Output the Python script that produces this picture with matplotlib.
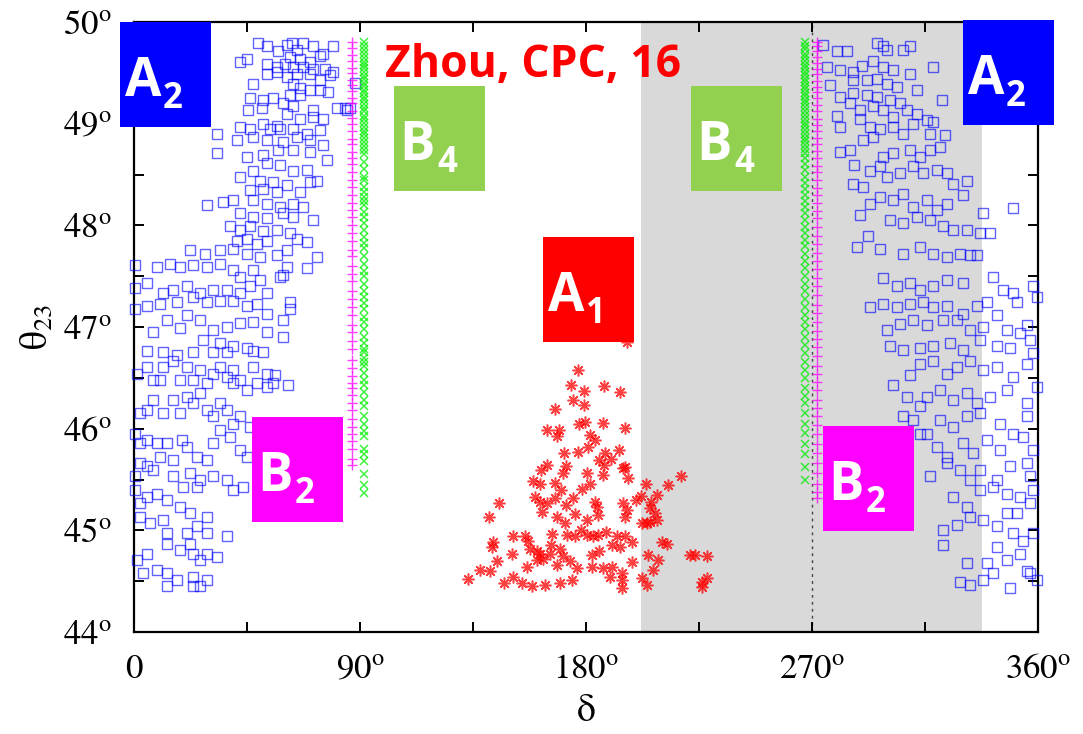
import matplotlib
matplotlib.use("Agg")
import matplotlib.pyplot as plt
from matplotlib.patches import Rectangle

# ---------------- data (delta in degrees, theta23 in degrees) ----------------
a2_left_delta = [
    49.5, 52.8, 57.5, 60.8, 62.8, 64.8, 67.4, 71.4, 75.4, 79.4,
    62.1, 66.1, 70.1, 74.1, 42.2, 44.9, 52.8, 56.8, 60.1, 63.5,
    67.4, 71.4, 76.1, 79.4, 52.8, 56.8, 60.8, 64.8, 70.1, 74.1,
    78.1, 47.5, 63.5, 66.1, 70.1, 74.1, 77.4, 62.1, 66.1, 46.2,
    51.5, 55.5, 59.5, 63.5, 71.4, 75.4, 80.7, 84.7, 45.5, 50.8,
    60.8, 66.1, 71.4, 42.2, 46.2, 51.5, 56.8, 54.2, 58.1, 63.5,
    68.8, 74.1, 33.0, 40.9, 47.5, 52.8, 59.5, 64.8, 70.1, 75.4,
    33.0, 44.9, 51.5, 57.5, 63.5, 70.1, 76.7, 52.8, 58.1, 63.5,
    68.8, 42.2, 47.5, 50.2, 55.5, 60.8, 70.1, 72.7, 46.2, 51.5,
    56.8, 66.1, 29.0, 35.6, 39.6, 47.5, 52.8, 58.1, 63.5, 67.4,
    42.2, 47.5, 52.8, 59.5, 63.5, 71.4, 38.2, 42.2, 46.2, 51.5,
    56.8, 62.1, 40.9, 44.9, 48.9, 52.8, 64.8, 68.8, 22.3, 28.3,
    34.2, 39.6, 44.9, 50.2, 56.8, 60.8, 72.7, 68.8, 60.8, 58.1,
    0.5, 9.0, 14.3, 18.3, 23.6, 29.0, 34.2, 39.6, 42.2, 47.5,
    50.2, 59.5, 0.5, 5.0, 11.7, 15.7, 21.0, 26.3, 31.6, 36.9,
    42.2, 46.2, 52.8, 62.1, 0.5, 5.0, 10.4, 17.0, 23.6, 29.0,
    34.2, 39.6, 44.9, 48.9, 62.1, 7.7, 13.0, 18.3, 21.0, 26.3,
    31.6, 36.9, 42.2, 47.5, 52.8, 59.5, 52.8, 59.5, 27.6, 34.2,
    39.6, 44.9, 5.0, 11.7, 17.0, 23.6, 31.6, 36.9, 47.5, 51.5,
    84.0, 86.0, 88.0,
    1.1, 5.0, 7.7, 10.4, 11.7, 15.7, 18.3, 21.0, 23.6, 26.3,
    29.0, 31.6, 34.2, 36.9, 39.6, 39.6, 42.2, 44.9, 47.5, 48.9,
    52.8, 56.2, 52.8, 55.5, 61.5, 2.4, 5.0, 7.7, 11.7, 15.7,
    18.3, 21.0, 23.6, 26.3, 29.0, 31.6, 34.2, 36.9, 39.6, 42.2,
    46.2, 0.5, 2.4, 5.0, 9.0, 13.0, 15.7, 19.0, 21.0, 25.0,
    29.0, 31.6, 34.2, 38.2, 42.2, 44.9, 0.5, 2.4, 5.0, 7.7,
    10.4, 15.7, 19.6, 22.3, 25.0, 26.3, 31.6, 36.9, 39.6, 43.5,
    0.5, 2.4, 5.0, 9.0, 13.0, 18.3, 22.3, 29.0, 11.7, 6.4,
    2.4, 36.9, 13.0, 21.0, 25.0, 29.0, 5.0, 13.0, 18.3, 22.3,
    23.6, 26.3, 29.0, 32.9, 1.1, 3.7, 9.0, 13.0, 17.0, 23.6,
    29.0, 13.0, 23.6, 26.3,
]
a2_left_theta = [
    49.79, 49.76, 49.71, 49.77, 49.79, 49.72, 49.79, 49.76, 49.69, 49.76,
    49.66, 49.64, 49.61, 49.67, 49.61, 49.64, 49.59, 49.56, 49.59, 49.56,
    49.56, 49.54, 49.54, 49.51, 49.49, 49.51, 49.46, 49.49, 49.49, 49.43,
    49.48, 49.39, 49.39, 49.35, 49.33, 49.33, 49.31, 49.28, 49.28, 49.25,
    49.23, 49.25, 49.20, 49.17, 49.13, 49.05, 49.15, 49.13, 49.13, 49.15,
    49.10, 49.05, 49.07, 48.97, 48.95, 49.00, 48.98, 48.95, 48.95, 48.95,
    48.90, 48.94, 48.90, 48.84, 48.87, 48.84, 48.82, 48.87, 48.84, 48.79,
    48.71, 48.67, 48.69, 48.74, 48.74, 48.72, 48.64, 48.61, 48.59, 48.53,
    48.54, 48.48, 48.53, 48.44, 48.43, 48.40, 48.43, 48.44, 48.35, 48.36,
    48.33, 48.33, 48.20, 48.23, 48.25, 48.25, 48.21, 48.18, 48.21, 48.18,
    48.12, 48.08, 48.07, 48.12, 48.08, 48.05, 47.99, 47.95, 47.99, 47.94,
    47.95, 47.92, 47.85, 47.87, 47.82, 47.85, 47.87, 47.84, 47.76, 47.72,
    47.76, 47.77, 47.72, 47.69, 47.71, 47.76, 47.69, 47.58, 47.59, 47.49,
    47.61, 47.59, 47.62, 47.59, 47.61, 47.59, 47.62, 47.56, 47.49, 47.56,
    47.46, 47.51, 47.38, 47.43, 47.33, 47.36, 47.40, 47.33, 47.36, 47.36,
    47.33, 47.40, 47.33, 47.25, 47.18, 47.21, 47.23, 47.25, 47.30, 47.25,
    47.26, 47.26, 47.21, 47.23, 47.18, 46.95, 47.07, 46.99, 47.12, 47.07,
    46.97, 47.00, 47.04, 47.05, 47.13, 47.07, 46.95, 46.90, 46.87, 46.84,
    46.81, 46.79, 46.76, 46.75, 46.72, 46.75, 46.75, 46.75, 46.76, 46.75,
    49.15, 49.15, 49.40,
    46.54, 46.61, 46.48, 46.48, 46.61, 46.67, 46.48, 46.61, 46.48, 46.58,
    46.45, 46.54, 46.61, 46.51, 46.58, 46.45, 46.48, 46.38, 46.61, 46.45,
    46.54, 46.53, 46.41, 46.45, 46.43, 46.15, 46.18, 46.28, 46.15, 46.28,
    46.15, 46.31, 46.25, 46.35, 46.18, 46.12, 46.25, 46.18, 46.05, 46.12,
    46.02, 45.95, 45.86, 45.89, 45.86, 45.86, 45.69, 45.89, 45.82, 45.72,
    45.69, 45.86, 45.99, 45.92, 45.79, 45.72, 45.53, 45.66, 45.63, 45.59,
    45.72, 45.53, 45.43, 45.56, 45.43, 45.50, 45.53, 45.50, 45.40, 45.43,
    45.40, 45.27, 45.33, 45.36, 45.30, 45.23, 45.17, 45.13, 45.10, 45.07,
    45.13, 44.94, 44.97, 44.97, 45.04, 44.97, 44.77, 44.87, 44.81, 44.87,
    44.77, 44.71, 44.77, 44.74, 44.71, 44.58, 44.61, 44.58, 44.51, 44.54,
    44.51, 44.45, 44.45, 44.45,
]

a2_right_delta = [
    274.5, 279.8, 283.8, 295.8, 298.4, 299.7, 306.4, 309.0, 318.3, 275.8,
    281.2, 286.5, 289.8, 294.4, 298.4, 302.4, 309.0, 286.5, 291.8, 295.8,
    299.7, 303.7, 277.2, 281.2, 286.5, 291.8, 295.8, 301.1, 305.1, 311.7,
    321.7, 279.8, 285.2, 289.1, 294.4, 298.4, 302.4, 307.7, 311.7, 315.7,
    318.3, 281.2, 289.1, 293.1, 297.1, 302.4, 306.4, 310.4, 317.0, 323.0,
    281.2, 285.2, 290.5, 294.4, 298.4, 302.4, 309.0, 313.0, 317.0, 321.0,
    286.9, 293.1, 297.1, 299.7, 305.1, 310.4, 314.4, 319.7, 323.6, 326.3,
    331.6, 286.5, 290.5, 297.1, 302.4, 306.4, 310.4, 315.7, 319.7, 323.6,
    330.3, 338.2, 350.2, 289.1, 293.1, 301.1, 306.4, 311.7, 317.0, 322.3,
    326.3, 331.6, 336.9, 340.9, 292.4, 287.8, 297.1, 306.4, 313.0, 318.3,
    323.6, 328.9, 332.9, 335.6, 298.4, 303.7, 309.0, 313.0, 318.3, 323.6,
    330.3, 342.2, 346.2, 350.2, 358.1, 293.1, 298.4, 303.7, 309.0, 314.4,
    318.3, 323.6, 330.3, 335.6, 339.6, 351.5, 359.5, 299.7, 305.1, 310.4,
    315.7, 322.3, 327.6, 332.9, 338.2, 343.6, 347.5, 352.8, 355.5, 301.1,
    306.4, 313.0, 318.3, 325.0, 330.3, 336.9, 343.6, 348.9, 356.8, 358.1,
    302.4, 309.0, 313.0, 318.3, 323.6, 327.6, 332.9, 338.2, 343.6, 350.2,
    355.5, 307.7, 313.0, 315.7, 321.0, 326.3, 331.6, 335.6, 340.9, 347.5,
    355.5, 359.5, 306.4, 310.4, 315.7, 321.0, 326.3, 331.6, 336.9, 344.9,
    350.2, 355.5, 313.0, 319.7, 323.6, 330.3, 334.3, 339.6, 344.9, 354.2,
    358.1, 317.0, 323.6, 328.9, 332.9, 336.9, 343.6, 348.9, 355.5, 356.8,
    326.3, 331.6, 336.9, 342.2, 347.5, 352.8, 358.1, 322.3, 327.6, 332.9,
    338.2, 343.6, 347.5, 351.5, 356.8, 358.1, 322.3, 343.6, 350.2, 354.2,
    331.6, 339.6, 342.2, 347.5, 352.8, 356.8, 328.9, 332.9, 338.2, 348.9,
    355.5, 359.5,
]
a2_right_theta = [
    49.77, 49.71, 49.71, 49.79, 49.76, 49.72, 49.72, 49.76, 49.56, 49.56,
    49.53, 49.51, 49.57, 49.62, 49.56, 49.53, 49.49, 49.43, 49.43, 49.44,
    49.39, 49.36, 49.38, 49.26, 49.30, 49.28, 49.26, 49.23, 49.20, 49.33,
    49.23, 49.08, 49.20, 49.13, 49.17, 49.13, 49.07, 49.13, 49.10, 49.04,
    49.02, 48.97, 49.05, 48.97, 48.95, 48.97, 48.90, 49.00, 48.90, 48.89,
    48.72, 48.74, 48.84, 48.87, 48.67, 48.71, 48.74, 48.67, 48.74, 48.77,
    48.59, 48.53, 48.58, 48.48, 48.51, 48.58, 48.51, 48.54, 48.51, 48.41,
    48.44, 48.41, 48.38, 48.28, 48.25, 48.31, 48.18, 48.25, 48.15, 48.21,
    48.30, 48.12, 48.17, 48.10, 48.21, 48.05, 48.02, 48.08, 48.05, 47.99,
    47.95, 47.95, 47.92, 47.92, 47.90, 47.79, 47.77, 47.72, 47.79, 47.72,
    47.69, 47.72, 47.71, 47.71, 47.48, 47.40, 47.43, 47.36, 47.40, 47.46,
    47.43, 47.49, 47.36, 47.33, 47.40, 47.20, 47.23, 47.20, 47.23, 47.25,
    47.20, 47.21, 47.13, 47.21, 47.25, 47.25, 47.30, 46.97, 47.03, 47.07,
    47.02, 47.07, 47.07, 46.97, 47.00, 47.12, 46.97, 46.94, 47.02, 46.81,
    46.77, 46.79, 46.81, 46.84, 46.77, 46.87, 46.81, 46.79, 46.87, 46.74,
    46.43, 46.53, 46.64, 46.67, 46.54, 46.61, 46.67, 46.58, 46.61, 46.51,
    46.64, 46.31, 46.22, 46.31, 46.38, 46.28, 46.35, 46.25, 46.31, 46.38,
    46.25, 46.41, 46.12, 46.09, 45.95, 46.09, 46.02, 46.12, 46.15, 46.05,
    45.95, 46.12, 45.95, 45.82, 45.72, 45.86, 45.76, 45.89, 45.79, 45.92,
    45.79, 45.53, 45.66, 45.59, 45.50, 45.59, 45.50, 45.63, 45.66, 45.53,
    45.33, 45.23, 45.40, 45.43, 45.36, 45.33, 45.40, 45.00, 45.05, 45.13,
    45.10, 45.04, 45.17, 45.17, 45.27, 44.97, 44.86, 44.84, 44.97, 44.90,
    44.68, 44.68, 44.58, 44.71, 44.77, 44.58, 44.49, 44.46, 44.51, 44.43,
    44.60, 44.51,
]

a1_delta = [
    176.9, 173.9, 179.2, 187.3, 193.5, 174.7, 179.2, 167.8, 177.1, 179.7,
    186.8, 195.7, 164.5, 169.3, 168.3, 181.6, 183.7, 180.7, 193.1, 171.2,
    176.7, 187.7, 164.6, 162.1, 171.9, 171.0, 185.3, 187.1, 194.6, 195.6,
    196.9, 186.9, 159.0, 161.7, 167.7, 180.3, 181.6, 178.3, 203.7, 212.8,
    217.7, 201.9, 208.4, 159.6, 167.8, 161.7, 164.3, 145.2, 172.0, 183.6,
    184.3, 194.6, 196.2, 195.5, 205.5, 207.5, 208.2, 204.2, 141.4, 162.4,
    168.3, 171.6, 175.6, 180.3, 184.9, 202.2, 205.5, 151.0, 155.7, 143.1,
    142.4, 166.3, 172.3, 175.6, 180.3, 182.9, 184.9, 192.2, 195.5, 198.2,
    190.2, 193.5, 210.1, 212.1, 157.7, 161.7, 165.7, 169.7, 171.0, 150.4,
    144.4, 141.8, 137.8, 156.4, 160.3, 163.0, 168.3, 176.3, 182.3, 182.3,
    186.9, 190.2, 198.2, 204.8, 208.8, 206.8, 132.9, 147.3, 151.0, 154.4,
    158.4, 163.7, 169.7, 174.3, 194.2, 194.2, 194.2, 189.6, 202.2, 204.2,
    221.4, 223.4, 228.1, 226.1, 228.1, 226.1, 196.3, 160.5, 166.0, 173.5,
    178.0, 188.0, 200.0, 206.0, 170.0, 175.0, 190.0, 157.0, 185.0,
]
a1_theta = [
    46.58, 46.43, 46.37, 46.42, 46.36, 46.28, 46.23, 46.19, 46.05, 46.07,
    46.06, 46.01, 45.99, 45.99, 45.93, 45.94, 45.89, 45.82, 45.79, 45.76,
    45.77, 45.76, 45.64, 45.59, 45.63, 45.56, 45.69, 45.64, 45.61, 45.62,
    45.51, 45.54, 45.49, 45.46, 45.47, 45.56, 45.46, 45.41, 45.46, 45.45,
    45.53, 45.34, 45.35, 45.33, 45.32, 45.28, 45.27, 45.27, 45.25, 45.28,
    45.23, 45.27, 45.20, 45.13, 45.22, 45.17, 45.10, 45.07, 45.13, 45.18,
    45.13, 45.07, 45.16, 45.10, 45.15, 45.07, 45.08, 44.94, 44.94, 44.89,
    44.84, 44.96, 44.95, 44.94, 44.95, 44.94, 44.95, 44.94, 44.94, 44.89,
    44.86, 44.84, 44.89, 44.87, 44.82, 44.77, 44.77, 44.82, 44.75, 44.77,
    44.70, 44.60, 44.61, 44.64, 44.71, 44.72, 44.66, 44.63, 44.76, 44.64,
    44.63, 44.64, 44.69, 44.76, 44.71, 44.61, 44.52, 44.48, 44.54, 44.48,
    44.45, 44.46, 44.48, 44.51, 44.58, 44.51, 44.43, 44.54, 44.53, 44.46,
    44.76, 44.76, 44.75, 44.49, 44.53, 44.44, 46.85, 44.80, 44.86, 44.70,
    45.00, 44.98, 45.30, 45.28, 45.40, 45.32, 45.70, 44.90, 44.80,
]

# B2 (magenta +) columns near 90 and 270 degrees
b2_left_delta = 87.0
b2_left_theta = [
    49.80, 49.74, 49.68, 49.62, 49.55, 49.50, 49.43, 49.38, 49.32, 49.25,
    49.20, 49.12, 49.06, 49.00, 48.93, 48.85, 48.80, 48.72, 48.66, 48.60,
    48.52, 48.45, 48.38, 48.30, 48.22, 48.15, 48.08, 48.00, 47.92, 47.85,
    47.76, 47.70, 47.60, 47.52, 47.45, 47.35, 47.28, 47.20, 47.12, 47.02,
    46.95, 46.86, 46.78, 46.68, 46.60, 46.52, 46.45, 46.40, 46.33, 46.25,
    46.18, 46.10, 46.02, 45.95, 45.88, 45.80, 45.70, 45.64,
]
b2_right_delta = 272.0
b2_right_theta = [
    49.80, 49.76, 49.71, 49.66, 49.60, 49.54, 49.49, 49.42, 49.36, 49.31,
    49.25, 49.18, 49.12, 49.05, 48.99, 48.93, 48.86, 48.80, 48.73, 48.66,
    48.58, 48.52, 48.45, 48.37, 48.30, 48.22, 48.14, 48.07, 47.98, 47.90,
    47.82, 47.73, 47.65, 47.57, 47.48, 47.40, 47.31, 47.22, 47.14, 47.05,
    46.96, 46.88, 46.80, 46.71, 46.62, 46.54, 46.46, 46.38, 46.28, 46.20,
    46.12, 46.04, 45.95, 45.85, 45.76, 45.66, 45.56, 45.46, 45.38, 45.32,
]

# B4 (green x) columns near 90 and 270 degrees
b4_left_delta = 91.6
b4_left_theta = [
    49.80, 49.76, 49.72, 49.69, 49.65, 49.61, 49.58, 49.55, 49.51, 49.47,
    49.44, 49.40, 49.37, 49.33, 49.30, 49.26, 49.23, 49.19, 49.15, 49.12,
    49.08, 49.05, 49.01, 48.97, 48.93, 48.90, 48.86, 48.82, 48.78, 48.74,
    48.70, 48.62, 48.55, 48.48, 48.45, 48.38, 48.33, 48.28, 48.24, 48.20,
    48.13, 48.08, 48.02, 47.95, 47.89, 47.83, 47.78, 47.70, 47.62, 47.55,
    47.50, 47.42, 47.35, 47.30, 47.24, 47.18, 47.10, 47.05, 46.98, 46.90,
    46.84, 46.78, 46.75, 46.70, 46.66, 46.62, 46.55, 46.48, 46.43, 46.36,
    46.28, 46.22, 46.12, 46.05, 45.98, 45.93, 45.80, 45.75, 45.68, 45.55,
    45.45, 45.37,
]
b4_right_delta = 267.2
b4_right_theta = [
    49.80, 49.76, 49.73, 49.69, 49.66, 49.62, 49.58, 49.55, 49.51, 49.48,
    49.44, 49.41, 49.37, 49.34, 49.30, 49.27, 49.23, 49.20, 49.16, 49.12,
    49.09, 49.05, 49.01, 48.98, 48.94, 48.90, 48.86, 48.83, 48.79, 48.75,
    48.71, 48.66, 48.60, 48.54, 48.48, 48.42, 48.36, 48.30, 48.24, 48.18,
    48.12, 48.05, 47.98, 47.92, 47.86, 47.80, 47.72, 47.65, 47.58, 47.50,
    47.42, 47.35, 47.28, 47.20, 47.12, 47.05, 46.98, 46.90, 46.82, 46.74,
    46.66, 46.58, 46.50, 46.40, 46.32, 46.25, 46.15, 46.05, 45.96, 45.85,
    45.75, 45.62, 45.50,
]

shade_range = (202.0, 337.7)
x_ticks = [0, 45, 90, 135, 180, 225, 270, 315, 360]
x_labels = ["0", "", r"$90^{\rm o}$", "", r"$180^{\rm o}$", "", r"$270^{\rm o}$", "", r"$360^{\rm o}$"]
y_ticks = [44, 44.5, 45, 45.5, 46, 46.5, 47, 47.5, 48, 48.5, 49, 49.5, 50]
y_labels = [r"$%d^{\rm o}$" % v if float(v).is_integer() else "" for v in y_ticks]

# ---------------- figure ----------------
plt.rcParams["mathtext.fontset"] = "stix"
W, H = 1083, 734
fig = plt.figure(figsize=(W / 100, H / 100), dpi=100)
ax = fig.add_axes([134 / W, 1 - 632 / H, (1038 - 134) / W, (632 - 22) / H])

ax.axvspan(*shade_range, color="#d9d9d9", lw=0, zorder=0)
ax.axvline(270, color="#444444", ls=(0, (2, 3)), lw=1.0, zorder=1)

sq = dict(ls="none", marker="s", ms=7.4, mfc="none", mec="#0000ff", mew=1.0,
          alpha=0.62, clip_on=False, zorder=3)
ax.plot(a2_left_delta, a2_left_theta, **sq)
ax.plot(a2_right_delta, a2_right_theta, **sq)
ax.plot(a1_delta, a1_theta, ls="none", marker=(8, 2, 0), ms=8.5, color="#ff0000",
        mew=1.1, alpha=0.75, zorder=3)
ax.plot([b2_left_delta] * len(b2_left_theta), b2_left_theta, ls="none", marker="+",
        ms=7, color="#ff00ff", mew=1.0, alpha=0.75, zorder=3)
ax.plot([b2_right_delta] * len(b2_right_theta), b2_right_theta, ls="none", marker="+",
        ms=7, color="#ff00ff", mew=1.0, alpha=0.75, zorder=3)
ax.plot([b4_left_delta] * len(b4_left_theta), b4_left_theta, ls="none", marker="x",
        ms=6, color="#00ee00", mew=1.1, alpha=0.75, zorder=4)
ax.plot([b4_right_delta] * len(b4_right_theta), b4_right_theta, ls="none", marker="x",
        ms=6, color="#00ee00", mew=1.1, alpha=0.75, zorder=4)

ax.set_xlim(0, 360)
ax.set_ylim(44, 50)
ax.set_xticks(x_ticks)
ax.set_xticklabels(x_labels)
ax.set_yticks(y_ticks)
ax.set_yticklabels(y_labels)
ax.tick_params(direction="in", length=7.5, width=1.4, top=True, right=True,
               labelsize=25)
ax.tick_params(axis="x", pad=16)
ax.tick_params(axis="y", pad=16)
for s in ax.spines.values():
    s.set_linewidth(1.6)
for lab in ax.get_xticklabels() + ax.get_yticklabels():
    lab.set_fontfamily("STIXGeneral")

ax.set_xlabel("δ", fontsize=27, family="STIXGeneral", labelpad=6)
ax.set_ylabel(r"θ$_{23}$", fontsize=27, family="STIXGeneral", labelpad=6)

# ---------------- coloured label boxes (pixel layout) ----------------
def fx(px):
    return px / W

def fy(py):
    return 1 - py / H

boxes = [
    (120, 22, "#0000ff", "A", "2"),
    (963, 20, "#0000ff", "A", "2"),
    (394, 86, "#92d050", "B", "4"),
    (691, 86, "#92d050", "B", "4"),
    (543, 237, "#ff0000", "A", "1"),
    (252, 417, "#ff00ff", "B", "2"),
    (823, 426, "#ff00ff", "B", "2"),
]
bw, bh = 91, 105
for x0, y0, col, main, sub in boxes:
    fig.add_artist(Rectangle((fx(x0), fy(y0 + bh)), bw / W, bh / H,
                             transform=fig.transFigure, color=col, lw=0, zorder=10))
    fig.text(fx(x0 + 5), fy(y0 + 74), main, color="white", fontsize=38,
             fontweight="bold", family="Open Sans", ha="left", va="baseline", zorder=11)
    fig.text(fx(x0 + 43), fy(y0 + 86), sub, color="white", fontsize=25,
             fontweight="bold", family="Open Sans", ha="left", va="baseline", zorder=11)

fig.text(fx(385), fy(77), "Zhou, CPC, 16", color="#ff0000", fontsize=32,
         fontweight="bold", family="Open Sans", ha="left", va="baseline", zorder=11)

fig.savefig("out.png", dpi=100)
